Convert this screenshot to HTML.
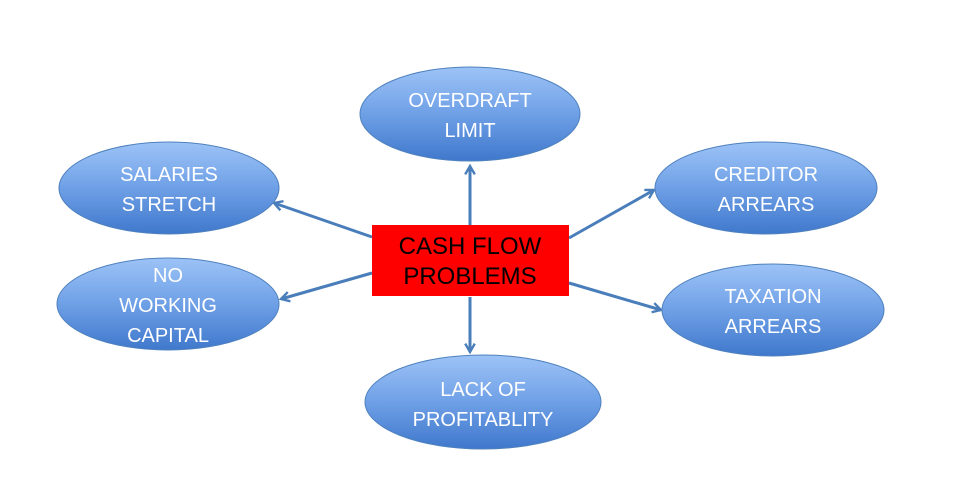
<!DOCTYPE html><html><head><meta charset="utf-8"><style>body{margin:0;background:#fff}svg{display:block}</style></head><body>
<svg width="960" height="481" viewBox="0 0 960 481" xmlns="http://www.w3.org/2000/svg">
<defs>
<linearGradient id="g" x1="0" y1="0" x2="0" y2="1"><stop offset="0" stop-color="#9dc3f7"/><stop offset="0.5" stop-color="#6fa0e6"/><stop offset="1" stop-color="#3f78cc"/></linearGradient>
<marker id="a" viewBox="0 0 10 10" refX="8" refY="5" markerWidth="4" markerHeight="4" orient="auto"><path d="M1,1 L8,5 L1,9" fill="none" stroke="#4a7ebb" stroke-width="2"/></marker>
</defs>
<g stroke="#4a7ebb" stroke-width="3" marker-end="url(#a)">
<line x1="470" y1="225" x2="470" y2="166"/>
<line x1="470" y1="297" x2="470" y2="352"/>
<line x1="372" y1="237" x2="274" y2="203"/>
<line x1="372" y1="273" x2="281" y2="299"/>
<line x1="569" y1="238" x2="654" y2="190"/>
<line x1="569" y1="283" x2="661" y2="310"/>
</g>
<g fill="url(#g)" stroke="#4f81bd" stroke-width="1">
<ellipse cx="470" cy="114" rx="110" ry="47"/>
<ellipse cx="169" cy="188" rx="110" ry="46"/>
<ellipse cx="766" cy="188" rx="111" ry="46"/>
<ellipse cx="168" cy="304" rx="111" ry="46"/>
<ellipse cx="773" cy="310" rx="111" ry="46"/>
<ellipse cx="483" cy="402" rx="118" ry="47"/>
</g>
<rect x="372" y="225" width="197" height="71" fill="#ff0000"/>
<g font-family="Liberation Sans, sans-serif" font-size="20" fill="#fff" text-anchor="middle">
<text x="470" y="107">OVERDRAFT</text><text x="470" y="137">LIMIT</text>
<text x="169" y="181">SALARIES</text><text x="169" y="211">STRETCH</text>
<text x="766" y="181">CREDITOR</text><text x="766" y="211">ARREARS</text>
<text x="168" y="282">NO</text><text x="168" y="312">WORKING</text><text x="168" y="342">CAPITAL</text>
<text x="773" y="303">TAXATION</text><text x="773" y="333">ARREARS</text>
<text x="483" y="396">LACK OF</text><text x="483" y="426">PROFITABLITY</text>
</g>
<g font-family="Liberation Sans, sans-serif" font-size="24" fill="#000" text-anchor="middle">
<text x="470" y="254">CASH FLOW</text><text x="470" y="284">PROBLEMS</text>
</g>
</svg>
</body></html>
